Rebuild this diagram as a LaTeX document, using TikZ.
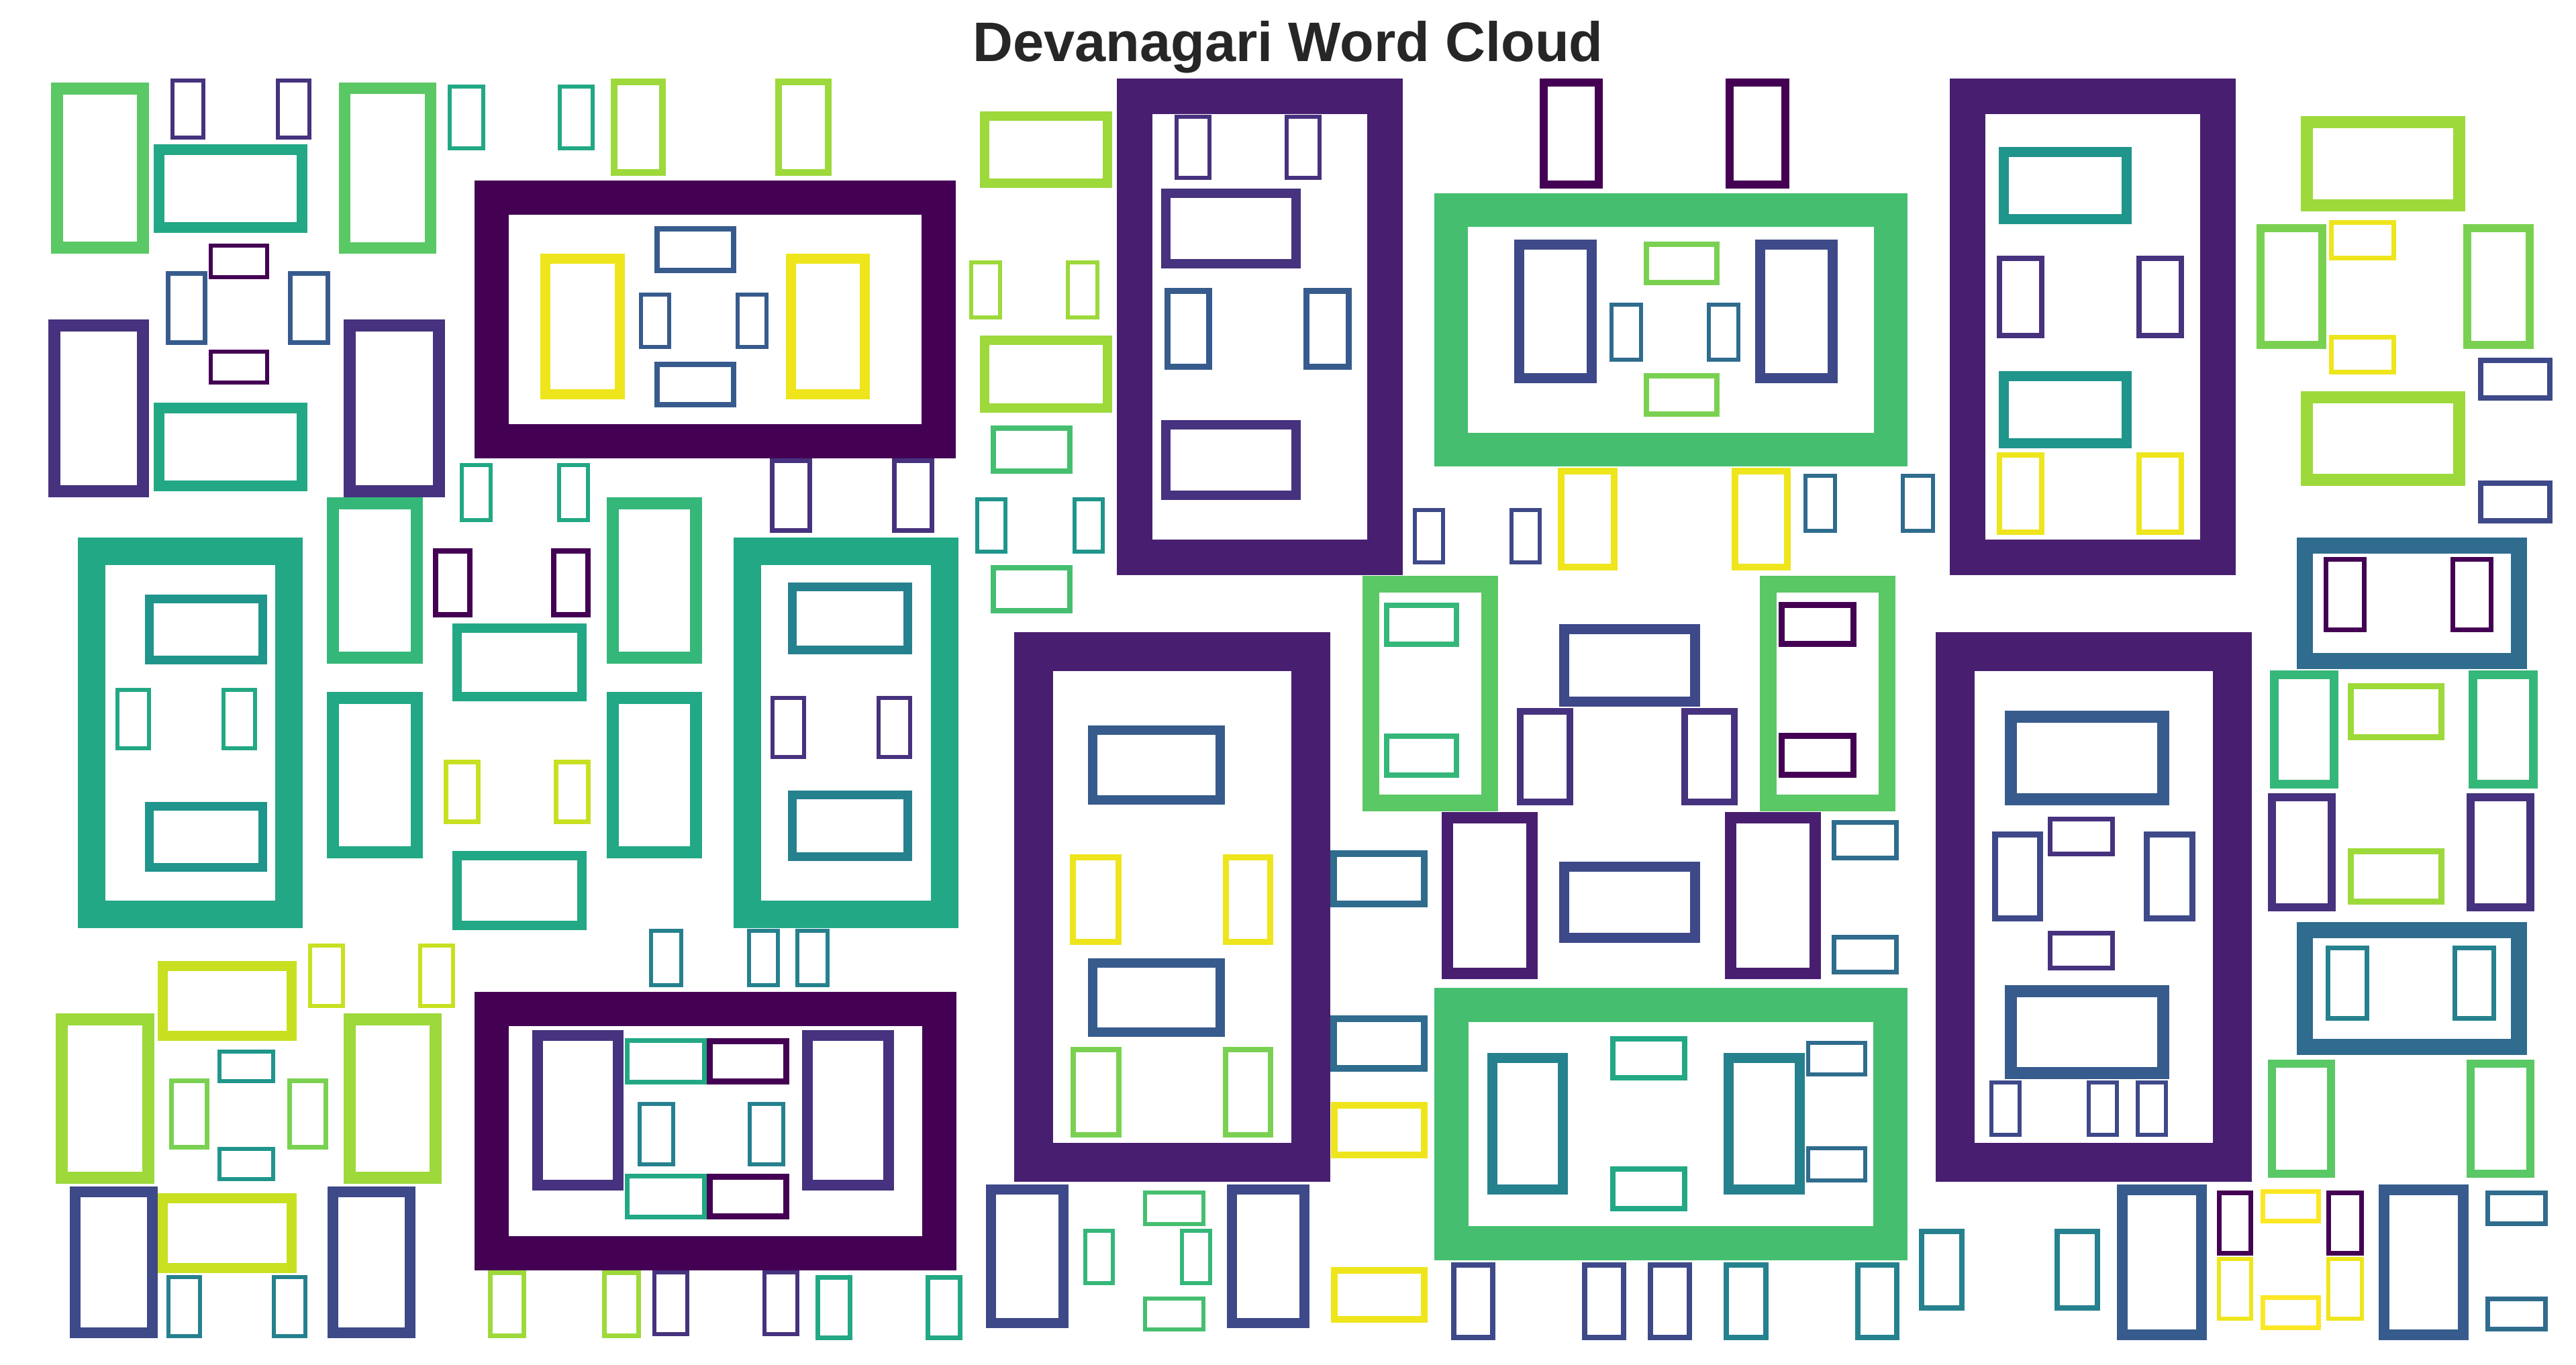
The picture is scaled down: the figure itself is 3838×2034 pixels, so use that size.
\documentclass[tikz,border=0pt]{standalone}
\usepackage{fontspec}
\setmainfont{Liberation Sans}
\usepackage{tikz}
\definecolor{titlegray}{HTML}{262626}
\definecolor{vA}{HTML}{440154}
\definecolor{vB}{HTML}{481F70}
\definecolor{vC}{HTML}{46327E}
\definecolor{vD}{HTML}{3E4989}
\definecolor{vE}{HTML}{375B8D}
\definecolor{vF}{HTML}{2F6C8E}
\definecolor{vG}{HTML}{26818E}
\definecolor{vH}{HTML}{1F958B}
\definecolor{vI}{HTML}{22A884}
\definecolor{vJ}{HTML}{35B779}
\definecolor{vK}{HTML}{45BF6F}
\definecolor{vL}{HTML}{5AC864}
\definecolor{vM}{HTML}{7AD151}
\definecolor{vN}{HTML}{9DD93B}
\definecolor{vO}{HTML}{C8E020}
\definecolor{vP}{HTML}{EEE51C}
\definecolor{vQ}{HTML}{FDE725}

\begin{document}
\begin{tikzpicture}[
    x=0.01cm, y=-0.01cm,
    glyph/.style={line join=miter},
    heading/.style={font=\fontsize{23.6}{28}\selectfont\bfseries, text=titlegray, inner sep=0pt, anchor=base}
]
\fill[white] (0,0) rectangle (3838,2034);
\useasboundingbox (0,0) rectangle (3838,2034);

% Title
\node[heading] (title) at (1919,92) {Devanagari Word Cloud};

% Top left
\foreach \xa/\ya/\xb/\yb/\lw/\col in {
    76/123/222/378/18/vL, 254/117/306/208/6/vC, 411/117/464/208/6/vC,
    229/215/458/347/16/vI, 505/123/650/378/17/vL, 667/126/723/224/6/vI,
    831/126/886/224/6/vI, 910/117/992/262/10/vN, 1155/117/1239/262/10/vN,
    311/363/401/416/6/vA, 311/521/401/573/6/vA, 247/404/309/514/7/vE,
    429/404/492/514/7/vE, 72/476/222/741/18/vC, 229/600/458/732/16/vI,
    512/476/663/741/18/vC, 685/690/734/778/6/vI, 830/690/879/778/6/vI%
}{
    \draw[glyph, draw=\col, line width=\lw*0.01cm] ({\xa+\lw/2},{\ya+\lw/2}) rectangle ({\xb-\lw/2},{\yb-\lw/2});
}

% Dark frame, top
\foreach \xa/\ya/\xb/\yb/\lw/\col in {
    707/269/1424/683/51/vA, 805/378/931/595/15/vP, 1171/378/1296/595/15/vP,
    975/337/1097/407/8/vE, 975/539/1097/607/8/vE, 952/436/1000/520/6/vE,
    1096/436/1145/520/6/vE%
}{
    \draw[glyph, draw=\col, line width=\lw*0.01cm] ({\xa+\lw/2},{\ya+\lw/2}) rectangle ({\xb-\lw/2},{\yb-\lw/2});
}

% Column beside the dark frame
\foreach \xa/\ya/\xb/\yb/\lw/\col in {
    1460/166/1657/280/14/vN, 1444/388/1493/476/6/vN, 1588/388/1638/476/6/vN,
    1460/500/1657/615/14/vN, 1476/634/1598/706/8/vK, 1147/683/1210/794/7/vC,
    1329/683/1392/794/7/vC, 1453/741/1501/825/6/vH, 1598/741/1646/825/6/vH,
    1476/842/1598/914/8/vK%
}{
    \draw[glyph, draw=\col, line width=\lw*0.01cm] ({\xa+\lw/2},{\ya+\lw/2}) rectangle ({\xb-\lw/2},{\yb-\lw/2});
}

% Purple frame, top centre
\foreach \xa/\ya/\xb/\yb/\lw/\col in {
    1664/117/2090/857/53/vB, 1750/171/1805/268/6/vC, 1914/171/1969/268/6/vC,
    1730/281/1938/400/14/vC, 1735/429/1806/551/9/vE, 1942/429/2014/551/9/vE,
    1730/626/1938/745/14/vC%
}{
    \draw[glyph, draw=\col, line width=\lw*0.01cm] ({\xa+\lw/2},{\ya+\lw/2}) rectangle ({\xb-\lw/2},{\yb-\lw/2});
}

% Green frame, top
\foreach \xa/\ya/\xb/\yb/\lw/\col in {
    2294/117/2388/281/12/vA, 2571/117/2666/281/12/vA, 2137/288/2842/695/50/vK,
    2256/357/2379/571/15/vD, 2615/357/2738/571/15/vD, 2449/360/2562/425/8/vM,
    2449/556/2562/621/8/vM, 2398/451/2448/539/6/vF, 2543/451/2593/539/6/vF,
    2105/757/2153/841/6/vD, 2249/757/2297/841/6/vD, 2321/697/2410/850/10/vP,
    2580/697/2668/850/10/vP, 2687/706/2737/794/6/vF, 2832/706/2883/794/6/vF%
}{
    \draw[glyph, draw=\col, line width=\lw*0.01cm] ({\xa+\lw/2},{\ya+\lw/2}) rectangle ({\xb-\lw/2},{\yb-\lw/2});
}

% Purple frame, top right
\foreach \xa/\ya/\xb/\yb/\lw/\col in {
    2905/117/3331/857/53/vB, 2978/219/3176/334/15/vH, 2975/381/3046/504/8/vC,
    3183/381/3254/504/8/vC, 2978/553/3176/668/15/vH, 2975/674/3046/797/8/vP,
    3183/674/3254/797/8/vP%
}{
    \draw[glyph, draw=\col, line width=\lw*0.01cm] ({\xa+\lw/2},{\ya+\lw/2}) rectangle ({\xb-\lw/2},{\yb-\lw/2});
}

% Right edge
\foreach \xa/\ya/\xb/\yb/\lw/\col in {
    3428/173/3673/315/18/vN, 3362/334/3466/520/12/vM, 3670/334/3775/520/12/vM,
    3470/328/3570/388/7/vP, 3470/499/3570/558/7/vP, 3692/533/3803/597/8/vD,
    3428/583/3673/724/18/vN, 3692/716/3803/780/8/vD, 3422/801/3765/997/24/vF,
    3462/830/3526/942/7/vA, 3651/830/3715/942/7/vA, 3382/999/3484/1175/13/vJ,
    3678/999/3781/1175/13/vJ, 3498/1018/3642/1103/9/vN, 3498/1264/3642/1348/9/vN,
    3379/1182/3480/1358/12/vC, 3675/1182/3776/1358/12/vC, 3422/1374/3765/1572/24/vF,
    3465/1409/3530/1521/7/vG, 3654/1409/3719/1521/7/vG, 3379/1579/3479/1755/12/vL,
    3675/1579/3776/1755/12/vL%
}{
    \draw[glyph, draw=\col, line width=\lw*0.01cm] ({\xa+\lw/2},{\ya+\lw/2}) rectangle ({\xb-\lw/2},{\yb-\lw/2});
}

% Purple frame, bottom right
\foreach \xa/\ya/\xb/\yb/\lw/\col in {
    2884/942/3355/1761/58/vB, 2987/1059/3232/1200/18/vE, 3051/1217/3151/1276/7/vC,
    2968/1239/3044/1373/9/vD, 3194/1239/3271/1373/9/vD, 3051/1387/3151/1446/7/vC,
    2987/1468/3232/1608/18/vE, 2964/1610/3012/1694/6/vD, 3109/1610/3157/1694/6/vD,
    3182/1610/3230/1694/6/vD%
}{
    \draw[glyph, draw=\col, line width=\lw*0.01cm] ({\xa+\lw/2},{\ya+\lw/2}) rectangle ({\xb-\lw/2},{\yb-\lw/2});
}

% Bottom right corner
\foreach \xa/\ya/\xb/\yb/\lw/\col in {
    2859/1831/2927/1953/8/vG, 3061/1831/3129/1953/8/vG, 3154/1765/3288/1997/16/vE,
    3303/1774/3357/1871/7/vA, 3368/1772/3458/1823/7/vQ, 3466/1774/3522/1871/7/vA,
    3303/1873/3357/1968/6/vP, 3466/1873/3522/1968/6/vP, 3368/1930/3458/1982/7/vQ,
    3544/1765/3678/1997/16/vE, 3703/1774/3796/1827/7/vF, 3703/1932/3796/1984/7/vF%
}{
    \draw[glyph, draw=\col, line width=\lw*0.01cm] ({\xa+\lw/2},{\ya+\lw/2}) rectangle ({\xb-\lw/2},{\yb-\lw/2});
}

% Centre
\foreach \xa/\ya/\xb/\yb/\lw/\col in {
    2030/858/2232/1209/25/vL, 2062/898/2174/964/8/vJ, 2062/1093/2174/1159/8/vJ,
    2622/858/2824/1209/25/vL, 2650/897/2766/964/9/vA, 2650/1092/2766/1159/9/vA,
    2323/930/2533/1053/15/vD, 2260/1055/2344/1200/10/vC, 2505/1055/2589/1200/10/vC,
    2148/1210/2291/1459/17/vB, 2570/1210/2713/1459/17/vB, 2323/1284/2533/1405/15/vD,
    1982/1267/2127/1352/10/vF, 2729/1222/2829/1282/7/vF, 2729/1393/2829/1452/7/vF,
    1982/1513/2127/1597/10/vF, 1983/1642/2127/1726/10/vP, 1983/1888/2127/1971/10/vP%
}{
    \draw[glyph, draw=\col, line width=\lw*0.01cm] ({\xa+\lw/2},{\ya+\lw/2}) rectangle ({\xb-\lw/2},{\yb-\lw/2});
}

% Green frame, bottom
\foreach \xa/\ya/\xb/\yb/\lw/\col in {
    2137/1472/2842/1878/51/vK, 2216/1569/2336/1780/15/vG, 2568/1569/2689/1780/15/vG,
    2399/1544/2514/1610/8/vI, 2399/1738/2514/1805/8/vI, 2691/1551/2782/1604/6/vF,
    2691/1708/2782/1762/6/vF, 2162/1881/2228/1997/8/vD, 2357/1881/2423/1997/8/vD,
    2455/1881/2521/1997/8/vD, 2568/1881/2635/1997/8/vG, 2764/1881/2830/1997/8/vG%
}{
    \draw[glyph, draw=\col, line width=\lw*0.01cm] ({\xa+\lw/2},{\ya+\lw/2}) rectangle ({\xb-\lw/2},{\yb-\lw/2});
}

% Purple frame, bottom centre
\foreach \xa/\ya/\xb/\yb/\lw/\col in {
    1511/942/1982/1761/58/vB, 1621/1081/1825/1199/14/vE, 1594/1273/1671/1408/9/vP,
    1822/1273/1897/1408/9/vP, 1621/1428/1825/1545/14/vE, 1595/1560/1671/1695/8/vM,
    1822/1560/1897/1695/8/vM, 1469/1765/1592/1979/15/vD, 1828/1765/1951/1979/15/vD,
    1703/1774/1796/1827/6/vK, 1703/1932/1796/1984/6/vK, 1614/1831/1661/1915/6/vJ,
    1758/1831/1806/1915/6/vJ%
}{
    \draw[glyph, draw=\col, line width=\lw*0.01cm] ({\xa+\lw/2},{\ya+\lw/2}) rectangle ({\xb-\lw/2},{\yb-\lw/2});
}

% Teal frames, middle left
\foreach \xa/\ya/\xb/\yb/\lw/\col in {
    1093/801/1428/1383/41/vI, 1174/868/1359/975/13/vG, 1148/1037/1201/1131/6/vC,
    1306/1037/1359/1131/6/vC, 1174/1178/1359/1283/13/vG, 967/1384/1018/1471/6/vG,
    1113/1384/1162/1471/6/vG, 1185/1384/1236/1471/6/vG,
    116/801/451/1383/41/vI, 216/886/398/990/13/vH, 172/1025/225/1118/6/vI,
    330/1025/383/1118/6/vI, 216/1195/398/1299/13/vH, 487/741/630/989/18/vJ,
    904/741/1046/989/18/vJ, 645/817/704/920/8/vA, 821/817/880/920/8/vA,
    674/929/874/1045/14/vI, 487/1031/630/1279/18/vI, 904/1031/1046/1279/18/vI,
    661/1132/716/1228/7/vO, 825/1132/880/1228/7/vO, 674/1268/874/1386/14/vI%
}{
    \draw[glyph, draw=\col, line width=\lw*0.01cm] ({\xa+\lw/2},{\ya+\lw/2}) rectangle ({\xb-\lw/2},{\yb-\lw/2});
}

% Bottom left
\foreach \xa/\ya/\xb/\yb/\lw/\col in {
    459/1406/514/1502/6/vO, 623/1406/678/1502/6/vO, 235/1432/442/1551/15/vO,
    83/1510/230/1764/18/vN, 512/1510/658/1764/18/vN, 324/1564/410/1614/6/vH,
    324/1709/410/1760/6/vH, 252/1607/312/1713/7/vM, 428/1607/489/1713/7/vM,
    104/1768/235/1994/16/vD, 235/1778/442/1897/15/vO, 488/1768/619/1994/16/vD,
    248/1900/301/1994/6/vG, 405/1900/458/1994/6/vG%
}{
    \draw[glyph, draw=\col, line width=\lw*0.01cm] ({\xa+\lw/2},{\ya+\lw/2}) rectangle ({\xb-\lw/2},{\yb-\lw/2});
}

% Dark frame, bottom
\foreach \xa/\ya/\xb/\yb/\lw/\col in {
    707/1478/1425/1893/51/vA, 793/1535/929/1774/16/vC, 1195/1535/1332/1774/16/vC,
    931/1547/1053/1616/7/vI, 1053/1547/1176/1616/9/vA, 931/1749/1053/1817/7/vI,
    1053/1749/1176/1817/9/vA, 950/1642/1006/1738/6/vG, 1114/1642/1170/1738/6/vG,
    727/1893/784/1994/7/vN, 897/1893/955/1994/7/vN, 972/1893/1027/1991/6/vC,
    1136/1893/1191/1991/6/vC, 1215/1900/1270/1997/7/vI, 1379/1900/1434/1997/7/vI%
}{
    \draw[glyph, draw=\col, line width=\lw*0.01cm] ({\xa+\lw/2},{\ya+\lw/2}) rectangle ({\xb-\lw/2},{\yb-\lw/2});
}

\end{tikzpicture}
\end{document}
